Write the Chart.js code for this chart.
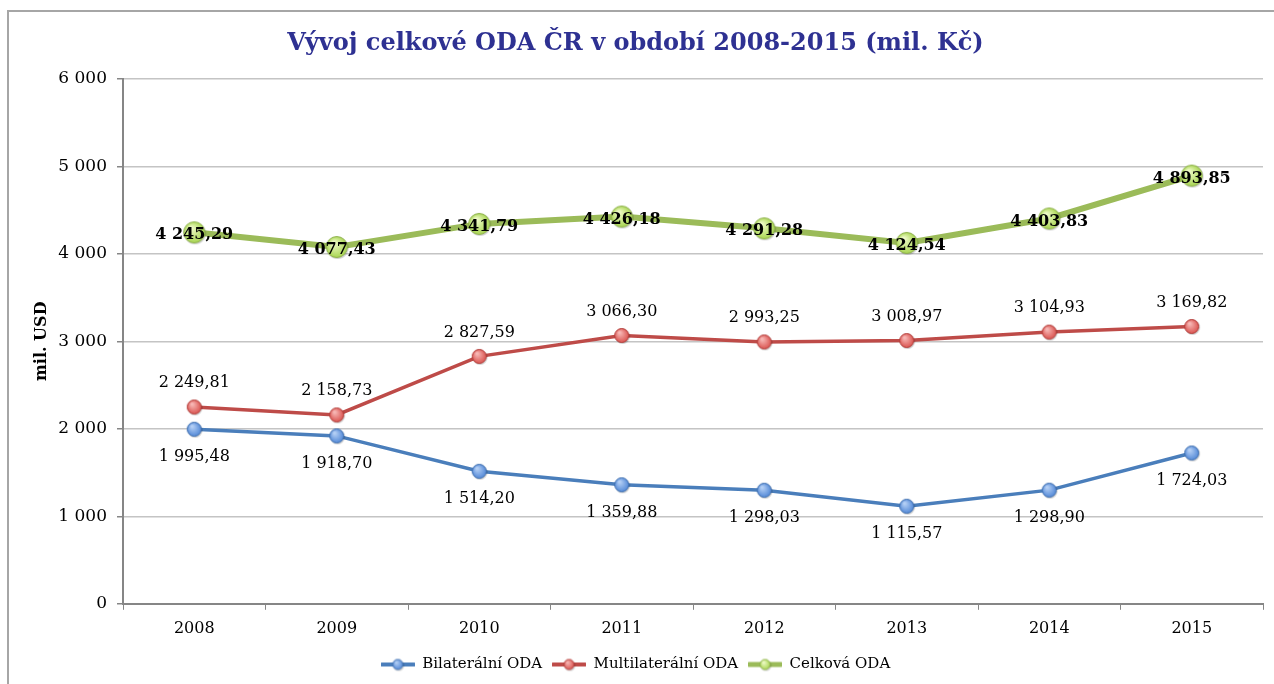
<!DOCTYPE html>
<html lang="cs">
<head>
  <meta charset="UTF-8">
  <title>Vývoj celkové ODA ČR</title>
  <script src="https://cdn.jsdelivr.net/npm/chart.js"></script>
  <style>
    html, body { margin: 0; padding: 0; background: #fff; overflow: hidden; }
    #graf { display: block; }
  </style>
</head>
<body>
  <canvas id="graf" width="1274" height="684"></canvas>

  <script>
    const roky = ['2008', '2009', '2010', '2011', '2012', '2013', '2014', '2015'];
    const bilateralni = [1995.48, 1918.70, 1514.20, 1359.88, 1298.03, 1115.57, 1298.90, 1724.03];
    const multilateralni = [2249.81, 2158.73, 2827.59, 3066.30, 2993.25, 3008.97, 3104.93, 3169.82];
    const celkova = [4245.29, 4077.43, 4341.79, 4426.18, 4291.28, 4124.54, 4403.83, 4893.85];

    const pismo = '"DejaVu Serif", Georgia, serif';

    function formatCislo(v, desetinna) {
      const parts = v.toFixed(desetinna).split('.');
      const cela = parts[0].replace(/\B(?=(\d{3})+(?!\d))/g, ' ');
      return parts[1] ? cela + ',' + parts[1] : cela;
    }

    // leskly bod jako obrazek
    function kulicka(d, svetla, barva, okraj) {
      const c = document.createElement('canvas');
      c.width = d + 4; c.height = d + 4;
      const ctx = c.getContext('2d');
      const r = d / 2, cx = c.width / 2, cy = c.height / 2;
      ctx.beginPath();
      ctx.arc(cx + 0.8, cy + 1, r, 0, Math.PI * 2);
      ctx.fillStyle = 'rgba(0,0,0,0.18)';
      ctx.fill();
      const g = ctx.createRadialGradient(cx - r * 0.3, cy - r * 0.4, r * 0.1, cx, cy, r);
      g.addColorStop(0, svetla);
      g.addColorStop(1, barva);
      ctx.beginPath();
      ctx.arc(cx, cy, r - 0.5, 0, Math.PI * 2);
      ctx.fillStyle = g;
      ctx.fill();
      ctx.lineWidth = 1;
      ctx.strokeStyle = okraj;
      ctx.stroke();
      return c;
    }

    function legendaZnacka(barvaCary, sirka, bod) {
      const c = document.createElement('canvas');
      c.width = 34; c.height = 16;
      const ctx = c.getContext('2d');
      ctx.beginPath();
      ctx.moveTo(1, 8); ctx.lineTo(33, 8);
      ctx.lineWidth = sirka;
      ctx.lineCap = 'round';
      ctx.strokeStyle = barvaCary;
      ctx.stroke();
      ctx.drawImage(bod, 17 - bod.width / 2, 8 - bod.height / 2);
      return c;
    }

    const bodModry = kulicka(15, '#b5d0f5', '#4f86d6', '#3f6fae');
    const bodCerveny = kulicka(15, '#f7b8b6', '#d9504c', '#b23f3c');
    const bodZeleny = kulicka(22, '#effbc8', '#a6d44e', '#8db04a');

    const serie = [
      { label: 'Bilaterální ODA', data: bilateralni, barva: '#4a7ebb', sirka: 3.5, bod: bodModry,
        legenda: legendaZnacka('#4a7ebb', 4, kulicka(11, '#b5d0f5', '#4f86d6', '#3f6fae')),
        popisek: { dy: 28, tucne: false } },
      { label: 'Multilaterální ODA', data: multilateralni, barva: '#be4b48', sirka: 3.5, bod: bodCerveny,
        legenda: legendaZnacka('#be4b48', 4, kulicka(11, '#f7b8b6', '#d9504c', '#b23f3c')),
        popisek: { dy: -24, tucne: false } },
      { label: 'Celková ODA', data: celkova, barva: '#9bbb59', sirka: 6, bod: bodZeleny,
        legenda: legendaZnacka('#9bbb59', 5, kulicka(11, '#effbc8', '#a6d44e', '#8db04a')),
        popisek: { dy: 3, tucne: true } }
    ];

    const ramecek = {
      id: 'ramecek',
      beforeDraw(chart) {
        const ctx = chart.ctx;
        ctx.save();
        ctx.fillStyle = '#fff';
        ctx.fillRect(0, 0, chart.width, chart.height);
        ctx.strokeStyle = '#a6a6a6';
        ctx.lineWidth = 2;
        ctx.beginPath();
        ctx.moveTo(8, chart.height);
        ctx.lineTo(8, 11);
        ctx.lineTo(chart.width, 11);
        ctx.stroke();
        ctx.restore();
      }
    };

    const popisky = {
      id: 'popisky',
      afterDatasetsDraw(chart) {
        const ctx = chart.ctx;
        ctx.save();
        ctx.textAlign = 'center';
        ctx.textBaseline = 'middle';
        ctx.fillStyle = '#000';
        chart.data.datasets.forEach((ds, i) => {
          const meta = chart.getDatasetMeta(i);
          const p = serie[i].popisek;
          ctx.font = (p.tucne ? 'bold ' : '') + '16px ' + pismo;
          meta.data.forEach((pt, j) => {
            ctx.fillText(formatCislo(ds.data[j], 2), pt.x, pt.y + p.dy);
          });
        });
        ctx.restore();
      }
    };

    new Chart(document.getElementById('graf'), {
      type: 'line',
      data: {
        labels: roky,
        datasets: serie.map(s => ({
          label: s.label,
          data: s.data,
          borderColor: s.barva,
          backgroundColor: s.barva,
          borderWidth: s.sirka,
          tension: 0,
          pointStyle: s.bod,
          pointRadius: 10,
          pointHoverRadius: 10
        }))
      },
      options: {
        responsive: false,
        animation: false,
        maintainAspectRatio: false,
        layout: { autoPadding: false, padding: { left: 8, right: 11, top: 12, bottom: 2 } },
        plugins: {
          title: {
            display: true,
            text: 'Vývoj celkové ODA ČR v období 2008-2015 (mil. Kč)',
            color: '#2e3192',
            font: { family: pismo, size: 24, weight: 'bold' },
            padding: { top: 17, bottom: 21 }
          },
          legend: {
            position: 'bottom',
            labels: {
              usePointStyle: true,
              pointStyleWidth: 34,
              padding: 10,
              color: '#000',
              font: { family: pismo, size: 15 },
              generateLabels: chart => chart.data.datasets.map((ds, i) => ({
                text: ds.label,
                pointStyle: serie[i].legenda,
                fillStyle: ds.borderColor,
                strokeStyle: ds.borderColor,
                lineWidth: 0,
                datasetIndex: i,
                hidden: false
              }))
            }
          },
          tooltip: { enabled: false }
        },
        scales: {
          x: {
            offset: true,
            border: { color: '#868686', width: 2 },
            grid: { offset: true, color: 'rgba(0,0,0,0)', tickColor: '#868686', tickLength: 6, drawOnChartArea: false },
            ticks: { color: '#000', padding: 9, font: { family: pismo, size: 16 } },
            afterFit: scale => { scale.paddingLeft = 0; scale.paddingRight = 0; }
          },
          y: {
            min: 0,
            max: 6000,
            border: { color: '#868686', width: 2 },
            grid: { color: '#c4c4c4', lineWidth: 1.5, tickColor: '#868686', tickLength: 6 },
            ticks: {
              stepSize: 1000,
              color: '#000',
              padding: 10,
              font: { family: pismo, size: 17 },
              callback: v => formatCislo(v, 0)
            },
            title: {
              display: true,
              text: 'mil. USD',
              color: '#000',
              font: { family: pismo, size: 16, weight: 'bold' },
              padding: { top: 24, bottom: 0 }
            },
            afterFit: scale => { scale.width = 115; }
          }
        }
      },
      plugins: [ramecek, popisky]
    });
  </script>
</body>
</html>
